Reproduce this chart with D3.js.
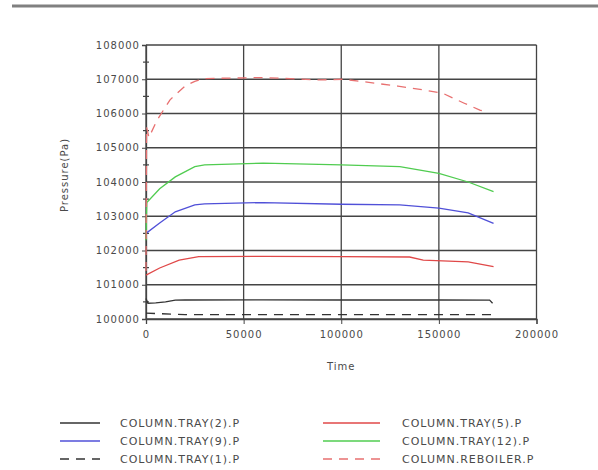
<!DOCTYPE html>
<html><head><meta charset="utf-8">
<script src="https://cdn.jsdelivr.net/npm/d3@7"></script>
<style>body{margin:0;background:#fff}svg{display:block}text{font-family:"DejaVu Sans","Liberation Sans",Arial,sans-serif;fill:#4a4a4a;letter-spacing:1px}</style>
</head><body>
<svg id="c" width="598" height="470"></svg>
<script>
const xTicks = [0, 50000, 100000, 150000, 200000];
const yTicks = [100000, 101000, 102000, 103000, 104000, 105000, 106000, 107000, 108000];
const tray2T = [0, 1000, 5000, 10000, 15000, 20000, 60000, 100000, 150000, 176000, 177500];
const tray2V = [100600, 100460, 100470, 100500, 100550, 100555, 100560, 100555, 100555, 100550, 100460];
const tray5T = [0, 7000, 17000, 27000, 60000, 100000, 135000, 142000, 165000, 178000];
const tray5V = [101280, 101490, 101720, 101820, 101830, 101820, 101810, 101720, 101670, 101530];
const tray9T = [0, 7000, 15000, 25000, 30000, 60000, 100000, 130000, 150000, 165000, 178000];
const tray9V = [102500, 102800, 103130, 103330, 103360, 103400, 103350, 103330, 103240, 103100, 102790];
const tray12T = [0, 400, 7000, 15000, 25000, 30000, 60000, 100000, 130000, 150000, 165000, 178000];
const tray12V = [102300, 103400, 103800, 104150, 104450, 104500, 104550, 104500, 104450, 104250, 104000, 103720];
const tray1T = [0, 20000, 50000, 100000, 150000, 177000];
const tray1V = [100170, 100130, 100130, 100130, 100130, 100130];
const rebT = [0, 300, 1500, 5600, 12300, 20000, 25000, 30000, 60000, 89000, 101000, 111000, 129000, 142000, 152000, 163000, 171000, 175000];
const rebV = [101400, 105600, 105300, 105800, 106400, 106800, 106940, 107020, 107050, 106980, 107000, 106930, 106800, 106690, 106590, 106300, 106100, 106040];
const seriesNames = ["COLUMN.TRAY(2).P", "COLUMN.TRAY(5).P", "COLUMN.TRAY(9).P", "COLUMN.TRAY(12).P", "COLUMN.TRAY(1).P", "COLUMN.REBOILER.P"];

const series = [
  {name: seriesNames[0], t: tray2T, v: tray2V, color: "#333", dash: null, col: 0, row: 0},
  {name: seriesNames[1], t: tray5T, v: tray5V, color: "#e04848", dash: null, col: 1, row: 0},
  {name: seriesNames[2], t: tray9T, v: tray9V, color: "#5050d8", dash: null, col: 0, row: 1},
  {name: seriesNames[3], t: tray12T, v: tray12V, color: "#50cc50", dash: null, col: 1, row: 1},
  {name: seriesNames[4], t: tray1T, v: tray1V, color: "#333", dash: "9,7", col: 0, row: 2},
  {name: seriesNames[5], t: rebT, v: rebV, color: "#e87070", dash: "9,7", col: 1, row: 2}
];

const svg = d3.select("#c");
const L = 146, R = 536.5, T = 45, B = 319;
const x = d3.scaleLinear().domain([0, 200000]).range([L, R]);
const y = d3.scaleLinear().domain([100000, 108000]).range([B, T]);

// top rule
svg.append("line").attr("x1", 12).attr("x2", 598).attr("y1", 6).attr("y2", 6)
  .attr("stroke", "#808080").attr("stroke-width", 3);

// grid
const g = svg.append("g");
g.selectAll(".hg").data(yTicks).join("line")
  .attr("x1", L).attr("x2", R).attr("y1", d => y(d)).attr("y2", d => y(d))
  .attr("stroke", "#444").attr("stroke-width", 1.3);
g.selectAll(".vg").data(xTicks).join("line")
  .attr("y1", T).attr("y2", B).attr("x1", d => x(d)).attr("x2", d => x(d))
  .attr("stroke", "#444").attr("stroke-width", 1.3);

// axes
const yAxis = d3.axisLeft(y).tickValues(yTicks).tickSize(4).tickPadding(2).tickFormat(d3.format("d"));
const ya = svg.append("g").attr("transform", `translate(${L},0)`).call(yAxis);
ya.select(".domain").attr("stroke", "#444").attr("stroke-width", 1.3);
ya.selectAll(".tick line").attr("stroke", "#444");
ya.selectAll("text").style("font-size", "10px").attr("font-family", null).attr("fill", "#555");
// minor ticks
const minor = d3.range(100500, 108000, 1000);
svg.selectAll(".mt").data(minor).join("line")
  .attr("x1", L - 3).attr("x2", L + 3).attr("y1", d => y(d)).attr("y2", d => y(d))
  .attr("stroke", "#444").attr("stroke-width", 1.2);

const xAxis = d3.axisBottom(x).tickValues(xTicks).tickSize(5).tickPadding(7).tickFormat(d3.format("d"));
const xa = svg.append("g").attr("transform", `translate(0,${B})`).call(xAxis);
xa.select(".domain").attr("stroke", "#444").attr("stroke-width", 1.3);
xa.selectAll(".tick line").attr("stroke", "#444");
xa.selectAll("text").style("font-size", "10px").attr("fill", "#555");
svg.selectAll(".tick text").attr("font-family", null);

// labels
svg.append("text").attr("x", x(100000)).attr("y", 370).attr("text-anchor", "middle")
  .style("font-size", "10px").text("Time");
svg.append("text").attr("transform", "translate(68,175) rotate(-90)").attr("text-anchor", "middle")
  .style("font-size", "10px").text("Pressure(Pa)");

// lines
const line = d3.line().x(d => x(d[0])).y(d => y(d[1]));
series.forEach(s => {
  const pts = s.t.map((t, i) => [t, s.v[i]]);
  svg.append("path").datum(pts).attr("d", line).attr("fill", "none")
    .attr("stroke", s.color).attr("stroke-width", 1.3)
    .attr("stroke-dasharray", s.dash);
});

// legend
const colX = [[60, 100, 120], [323, 380, 402]];
const rowY = [423, 441, 459];
series.forEach(s => {
  const c = colX[s.col], ry = rowY[s.row];
  svg.append("line").attr("x1", c[0]).attr("x2", c[1]).attr("y1", ry).attr("y2", ry)
    .attr("stroke", s.color).attr("stroke-width", 1.3).attr("stroke-dasharray", s.dash);
  svg.append("text").attr("x", c[2]).attr("y", ry + 4).style("font-size", "11px").text(s.name);
});
</script>
</body></html>
